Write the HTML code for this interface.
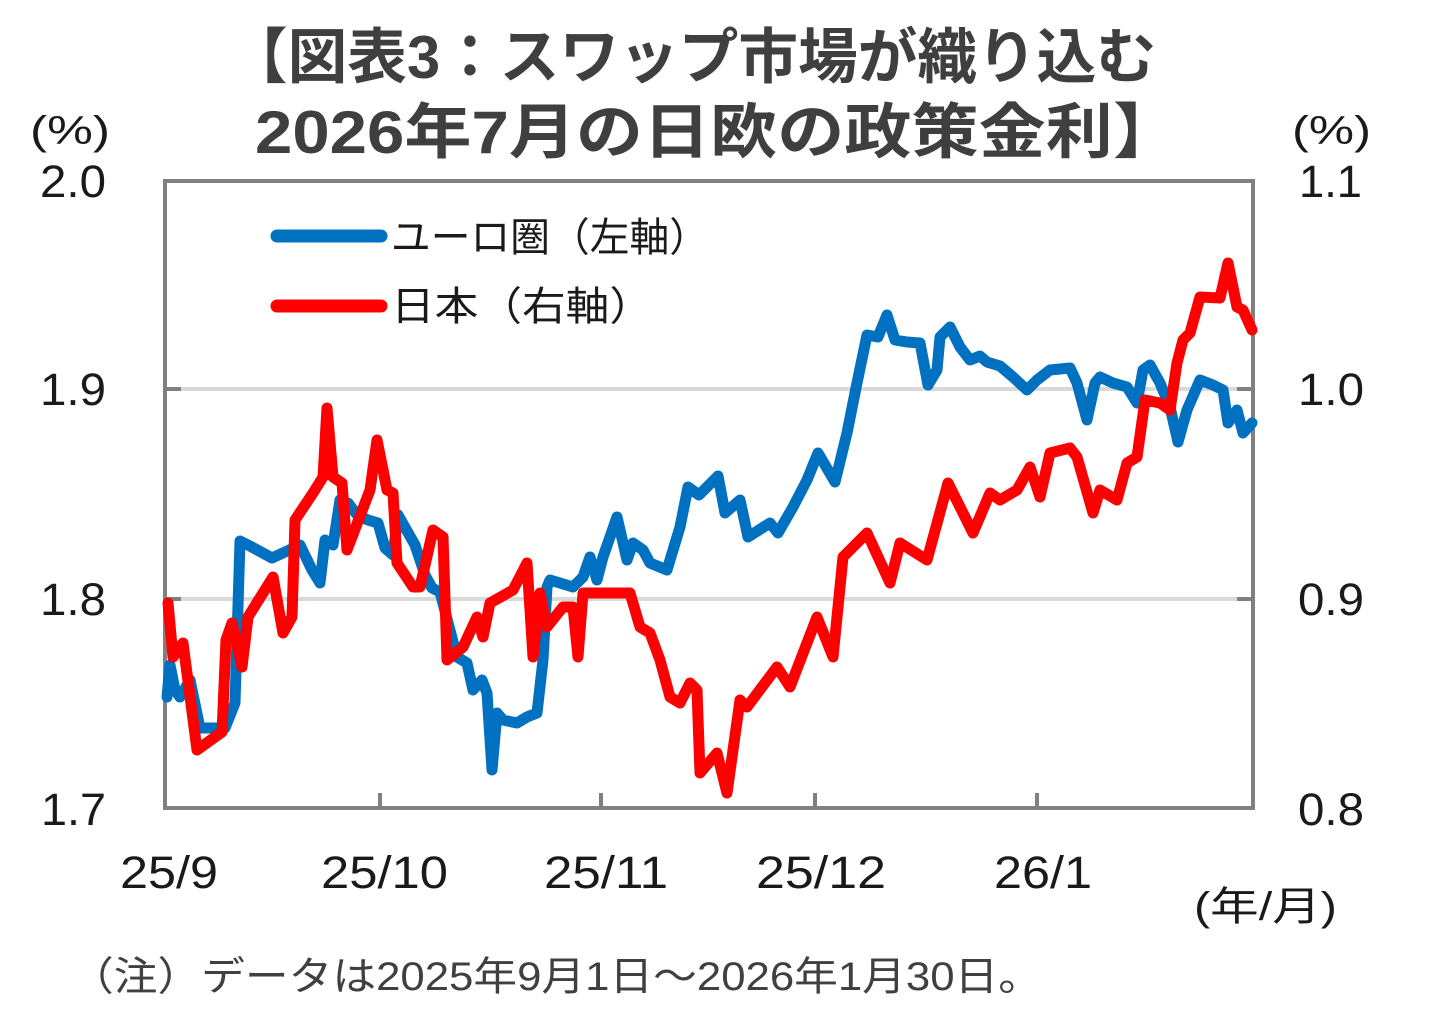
<!DOCTYPE html>
<html>
<head>
<meta charset="utf-8">
<style>
html,body{margin:0;padding:0;background:#fff;}
svg{display:block;}
</style>
</head>
<body>
<svg width="1431" height="1027" viewBox="0 0 1431 1027" xmlns="http://www.w3.org/2000/svg">
<rect x="0" y="0" width="1431" height="1027" fill="#ffffff"/>

<!-- Title -->
<g font-family="'Liberation Sans','Noto Sans CJK JP',sans-serif" font-weight="bold" font-size="60" fill="#3f3f3f">
<text x="228" y="78" textLength="928" lengthAdjust="spacingAndGlyphs">【図表3：スワップ市場が織り込む</text>
<text x="255" y="153" textLength="925" lengthAdjust="spacingAndGlyphs">2026年7月の日欧の政策金利】</text>
</g>

<!-- gridlines -->
<line x1="165" y1="389" x2="1253" y2="389" stroke="#d9d9d9" stroke-width="4"/>
<line x1="165" y1="599" x2="1253" y2="599" stroke="#d9d9d9" stroke-width="4"/>

<!-- frame -->
<rect x="165" y="181" width="1088" height="627" fill="none" stroke="#808080" stroke-width="4"/>

<!-- ticks -->
<g stroke="#808080" stroke-width="4">
<line x1="165" y1="389" x2="181" y2="389"/>
<line x1="165" y1="599" x2="181" y2="599"/>
<line x1="1237" y1="389" x2="1253" y2="389"/>
<line x1="1237" y1="599" x2="1253" y2="599"/>
<line x1="380" y1="793" x2="380" y2="808"/>
<line x1="601" y1="793" x2="601" y2="808"/>
<line x1="815" y1="793" x2="815" y2="808"/>
<line x1="1037" y1="793" x2="1037" y2="808"/>
</g>

<!-- Blue series (Euro, left axis) -->
<polyline fill="none" stroke="#0070c0" stroke-width="11" stroke-linejoin="round" stroke-linecap="round"
points="167,697 170,665 175,690 180,697 190,680 200,728 212,728 225,728 235,703 240,541 250,546 272,558 285,552 300,545 312,570 320,583 325,540 333,545 340,500 348,503 358,516 368,520 378,523 385,548 393,555 398,515 415,545 425,575 432,588 440,592 457,657 467,663 473,690 482,680 487,693 492,770 497,713 503,720 517,723 527,717 537,713 543,660 547,587 550,580 573,587 583,577 590,557 597,580 603,557 617,517 627,560 633,543 643,550 650,563 667,570 680,527 688,487 699,495 718,476 725,513 740,500 748,537 770,523 778,533 793,507 807,480 818,453 835,482 847,433 857,383 867,335 878,337 887,315 895,340 907,342 920,343 928,385 937,370 940,337 950,327 960,347 970,360 980,356 987,362 1000,366 1013,377 1027,390 1037,380 1050,370 1070,368 1077,383 1087,420 1095,383 1100,377 1113,383 1127,387 1137,403 1143,370 1150,365 1160,383 1170,407 1178,442 1187,410 1200,380 1213,385 1223,390 1228,423 1237,410 1243,433 1252,423"/>

<!-- Red series (Japan, right axis) -->
<polyline fill="none" stroke="#ff0000" stroke-width="11" stroke-linejoin="round" stroke-linecap="round"
points="168,603 173,657 183,643 197,750 222,732 226,640 232,623 242,667 248,617 273,577 283,633 292,617 295,520 313,493 323,477 327,408 333,477 342,483 347,550 370,490 377,440 387,490 393,493 397,563 413,587 420,587 433,530 443,537 447,660 463,647 477,617 483,637 490,603 513,590 527,563 533,657 540,593 547,627 563,607 573,607 578,657 583,593 630,593 640,627 650,633 660,660 670,697 680,703 690,683 697,690 700,773 717,753 727,793 740,700 747,707 777,667 790,687 817,617 833,657 843,557 867,533 890,583 900,543 927,560 948,483 973,533 990,493 1000,500 1017,490 1030,467 1040,497 1050,453 1070,448 1077,457 1093,513 1100,490 1117,500 1127,463 1137,457 1145,400 1160,403 1170,410 1177,363 1183,340 1190,333 1200,297 1220,298 1228,263 1237,307 1243,310 1252,330"/>

<!-- Legend -->
<line x1="277" y1="236" x2="381" y2="236" stroke="#0070c0" stroke-width="13" stroke-linecap="round"/>
<line x1="277" y1="306" x2="381" y2="306" stroke="#ff0000" stroke-width="13" stroke-linecap="round"/>
<g font-family="'Liberation Sans','Noto Sans CJK JP',sans-serif" font-size="40" fill="#1a1a1a">
<text x="391" y="251" textLength="318" lengthAdjust="spacingAndGlyphs">ユーロ圏（左軸）</text>
<text x="391" y="320" textLength="262" lengthAdjust="spacingAndGlyphs">日本（右軸）</text>
</g>

<!-- Axis labels -->
<g font-family="'Liberation Sans','Noto Sans CJK JP',sans-serif" font-size="45" fill="#1a1a1a">
<text x="30" y="144" font-size="40" textLength="80" lengthAdjust="spacingAndGlyphs">(%)</text>
<text x="1292" y="144" font-size="40" textLength="79" lengthAdjust="spacingAndGlyphs">(%)</text>

<text x="40" y="197" textLength="66" lengthAdjust="spacingAndGlyphs">2.0</text>
<text x="40" y="405" textLength="66" lengthAdjust="spacingAndGlyphs">1.9</text>
<text x="40" y="615" textLength="66" lengthAdjust="spacingAndGlyphs">1.8</text>
<text x="41" y="825" textLength="65" lengthAdjust="spacingAndGlyphs">1.7</text>

<text x="1299" y="197" textLength="63" lengthAdjust="spacingAndGlyphs">1.1</text>
<text x="1298" y="405" textLength="66" lengthAdjust="spacingAndGlyphs">1.0</text>
<text x="1298" y="615" textLength="66" lengthAdjust="spacingAndGlyphs">0.9</text>
<text x="1298" y="825" textLength="66" lengthAdjust="spacingAndGlyphs">0.8</text>

<text x="120" y="888" textLength="98" lengthAdjust="spacingAndGlyphs">25/9</text>
<text x="321" y="888" textLength="127" lengthAdjust="spacingAndGlyphs">25/10</text>
<text x="544" y="888" textLength="124" lengthAdjust="spacingAndGlyphs">25/11</text>
<text x="756" y="888" textLength="130" lengthAdjust="spacingAndGlyphs">25/12</text>
<text x="994" y="888" textLength="98" lengthAdjust="spacingAndGlyphs">26/1</text>

<text x="1194" y="920" font-size="40" textLength="143" lengthAdjust="spacingAndGlyphs">(年/月)</text>
</g>

<!-- Note -->
<text x="70" y="990" font-family="'Liberation Sans','Noto Sans CJK JP',sans-serif" font-size="40" fill="#404040" textLength="972" lengthAdjust="spacingAndGlyphs">（注）データは2025年9月1日～2026年1月30日。</text>
</svg>
</body>
</html>
